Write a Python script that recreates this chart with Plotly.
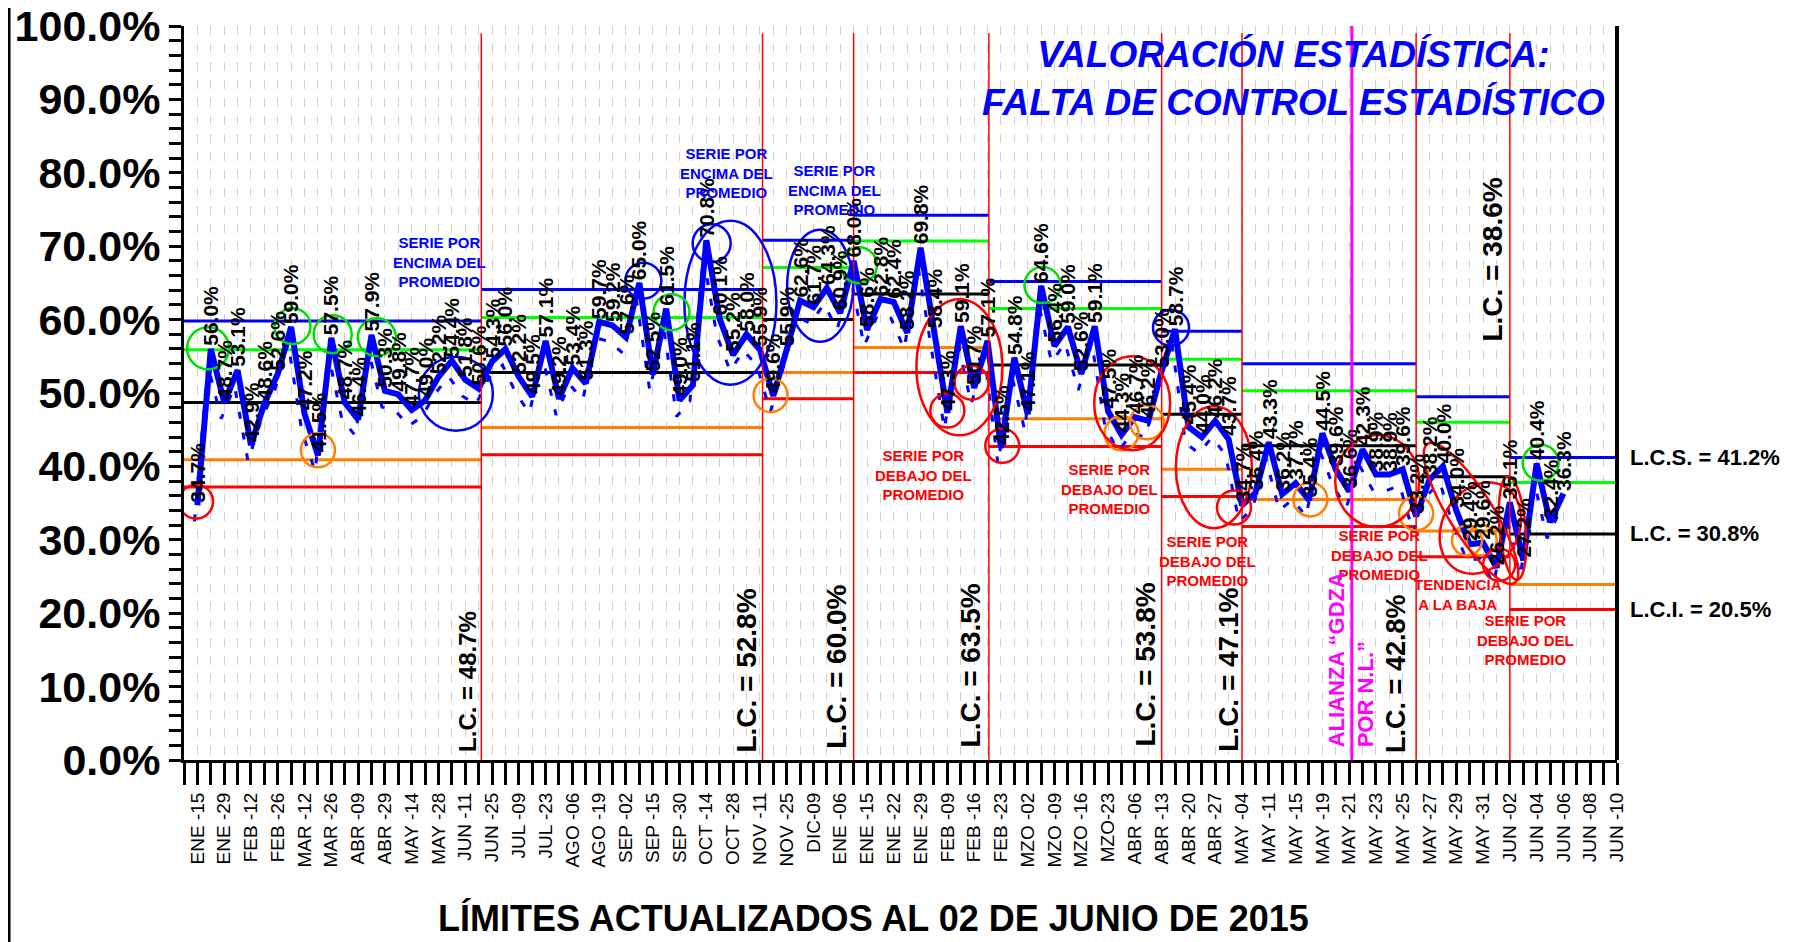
import math
import plotly.graph_objects as go

# etiquetas del eje x (una cada dos puntos)
fechas = [
    "ENE -15", "ENE -29", "FEB -12", "FEB -26", "MAR -12", "MAR -26", "ABR -09", "ABR -29",
    "MAY -14", "MAY -28", "JUN -11", "JUN -25", "JUL -09", "JUL -23", "AGO -06", "AGO -19",
    "SEP -02", "SEP -15", "SEP -30", "OCT -14", "OCT -28", "NOV -11", "NOV -25", "DIC-09",
    "ENE -06", "ENE -15", "ENE -22", "ENE -29", "FEB -09", "FEB -16", "FEB -23", "MZO -02",
    "MZO -09", "MZO -16", "MZO-23", "ABR -06", "ABR -13", "ABR -20", "ABR -27", "MAY -04",
    "MAY -11", "MAY -15", "MAY -19", "MAY -21", "MAY -23", "MAY -25", "MAY -27", "MAY -29",
    "MAY -31", "JUN -02", "JUN -04", "JUN -06", "JUN -08", "JUN -10",
]

valores = [
    34.7, 56.0, 48.7, 53.1, 42.9, 48.6, 52.6, 59.0, 47.2, 41.5, 57.5, 48.7, 46.4, 57.9, 50.3, 49.8,
    47.7, 49.0, 52.2, 54.4, 51.8, 50.6,
    54.3, 56.0, 52.2, 49.5, 57.1, 49.2, 53.4, 51.3, 59.7, 59.2, 57.6, 65.0, 52.5, 61.5, 49.0, 51.1,
    70.8, 60.1, 55.2, 58.0, 55.9,
    49.6, 55.9, 62.6, 61.7, 64.3, 60.9, 68.0,
    58.6, 62.8, 62.4, 58.2, 69.8, 58.4, 47.3, 59.1, 50.7, 57.1,
    42.5, 54.8, 47.1, 64.6, 56.4, 59.0, 52.6, 59.1, 47.5, 44.3, 46.7, 46.2, 53.0,
    58.7, 45.4, 44.0, 46.2, 43.7, 34.7,
    36.4, 43.3, 36.2, 37.7, 35.4, 44.5, 39.6, 36.6, 42.3, 38.9, 38.9, 39.6,
    33.2, 38.2, 40.0, 34.0, 29.4, 29.6, 26.2,
    35.1, 27.2, 40.4, 32.4, 36.3,
]

# limites por etapa
cortes = [-1, 21.2, 42.2, 49.0, 59.1, 72.0, 78.0, 91.0, 98.0, 106]
lcs = [59.8, 64.1, 70.8, 74.2, 65.2, 58.4, 54.0, 49.5, 41.2]
sup2 = [55.9, 60.3, 67.1, 70.7, 61.5, 54.6, 50.3, 46.0, 37.8]
lc = [48.7, 52.8, 60.0, 63.5, 53.8, 47.1, 42.8, 38.6, 30.8]
inf2 = [40.9, 45.3, 52.8, 56.2, 46.5, 39.6, 35.5, 31.2, 23.9]
lci = [37.2, 41.6, 49.2, 52.8, 42.7, 35.9, 31.8, 27.7, 20.5]
alianza = 86.2

PXC = 1433 / 107   # px por punto
PXP = 734 / 100    # px por punto porcentual

x = list(range(len(valores)))

fig = go.Figure()

# sombra punteada
fig.add_trace(go.Scatter(x=x, y=valores, mode="lines", xaxis="x2", yaxis="y2",
                         line=dict(color="#0000ff", width=3, dash="7px,14px"),
                         hoverinfo="skip", showlegend=False))
# lineas de control
colores = [("#0000ff", lcs), ("#00ff00", sup2), ("black", lc), ("#ff8000", inf2), ("#ff0000", lci)]
for i in range(len(lc)):
    for col, serie in colores:
        fig.add_trace(go.Scatter(x=[cortes[i], cortes[i + 1]], y=[serie[i], serie[i]], mode="lines",
                                 line=dict(color=col, width=3), hoverinfo="skip", showlegend=False))
# serie principal
fig.add_trace(go.Scatter(x=x, y=valores, mode="lines", line=dict(color="#0000ff", width=6),
                         showlegend=False))

# etiquetas de datos
for xi, v in zip(x, valores):
    fig.add_annotation(x=xi, y=v, text=f"<b>{v:.1f}%</b>", textangle=-90, showarrow=False,
                       xanchor="center", yanchor="bottom", yshift=1,
                       font=dict(family="Liberation Sans", size=21, color="black"))

shapes = []
# lineas verticales de cambio de etapa
for c in cortes[1:-1]:
    shapes.append(dict(type="line", xref="x", yref="y", x0=c, x1=c, y0=0, y1=99,
                       line=dict(color="#ff0000", width=1.5)))
shapes.append(dict(type="line", xref="x", yref="y", x0=alianza, x1=alianza, y0=0, y1=100,
                   line=dict(color="#ff00ff", width=3)))
# marco derecho y borde izquierdo
shapes.append(dict(type="line", xref="paper", yref="paper", x0=1, x1=1, y0=0, y1=1,
                   line=dict(color="black", width=4)))
shapes.append(dict(type="line", xref="paper", yref="paper", x0=-0.1221, x1=-0.1221, y0=-0.26, y1=1.05,
                   line=dict(color="black", width=3)))

# circulos y elipses de senalamiento: (color, x, y, rx px, ry px, giro)
marcas = [
    ("#0000ff", 19.3, 49.9, 37, 37, 0), ("#0000ff", 33.3, 65.3, 18, 18, 0),
    ("#0000ff", 38.4, 70.4, 19, 19, 0), ("#0000ff", 39.8, 62.3, 46, 82, 0),
    ("#0000ff", 46.5, 64.6, 33, 56, 0), ("#0000ff", 72.7, 58.9, 18, 18, 0),
    ("#00dd00", 0.8, 56.1, 21, 21, 0), ("#00dd00", 7.1, 59.1, 18, 18, 0),
    ("#00dd00", 10.1, 58.0, 19, 19, 0), ("#00dd00", 13.4, 57.6, 19, 19, 0),
    ("#00dd00", 35.4, 61.0, 18, 18, 0), ("#00dd00", 49.4, 67.4, 18, 18, 0),
    ("#00dd00", 63.1, 64.7, 18, 18, 0), ("#00dd00", 100.3, 40.5, 18, 18, 0),
    ("#ff8000", 9.0, 42.2, 17, 17, 0), ("#ff8000", 42.8, 49.7, 17, 17, 0),
    ("#ff8000", 69.0, 44.5, 17, 17, 0), ("#ff8000", 70.9, 46.0, 17, 17, 0),
    ("#ff8000", 83.1, 35.5, 17, 17, 0), ("#ff8000", 91.0, 33.6, 17, 17, 0),
    ("#ff8000", 94.8, 29.9, 15, 15, 0), ("#ff8000", 95.9, 29.9, 15, 15, 0),
    ("#ff0000", -0.1, 35.2, 17, 17, 0), ("#ff0000", 56.9, 53.5, 43, 68, 0),
    ("#ff0000", 56.0, 47.6, 17, 17, 0), ("#ff0000", 57.8, 51.4, 17, 17, 0),
    ("#ff0000", 60.1, 42.8, 17, 17, 0), ("#ff0000", 69.8, 48.6, 38, 47, 0),
    ("#ff0000", 75.9, 39.9, 38, 61, 0), ("#ff0000", 77.4, 34.4, 17, 17, 0),
    ("#ff0000", 88.1, 38.0, 42, 46, 0), ("#ff0000", 97.2, 26.6, 16, 16, 0),
    ("#ff0000", 95.1, 33.6, 82, 22, 58), ("#ff0000", 95.8, 31.6, 38, 48, 30),
    ("#ff0000", 98.2, 31.6, 13, 52, -5),
]
for col, cx, cy, rx, ry, giro in marcas:
    if giro == 0:
        shapes.append(dict(type="circle", xref="x", yref="y", x0=cx - rx / PXC, x1=cx + rx / PXC,
                           y0=cy - ry / PXP, y1=cy + ry / PXP, line=dict(color=col, width=2.5)))
    else:
        th = math.radians(giro)
        pts = []
        for k in range(73):
            t = 2 * math.pi * k / 72
            dx = rx * math.cos(t) * math.cos(th) - ry * math.sin(t) * math.sin(th)
            dy = rx * math.cos(t) * math.sin(th) + ry * math.sin(t) * math.cos(th)
            pts.append(f"{cx + dx / PXC:.3f},{cy - dy / PXP:.3f}")
        shapes.append(dict(type="path", xref="x", yref="y", path="M" + " L".join(pts) + " Z",
                           line=dict(color=col, width=2.5)))

# textos de senalamiento
encima = [(18.1, 67.8), (39.5, 80.0), (47.6, 77.7)]
debajo = [(54.2, 38.8), (68.1, 36.9), (75.4, 27.1), (88.3, 27.9), (99.2, 16.3)]
for px_, py_ in encima:
    fig.add_annotation(x=px_, y=py_, text="<b>SERIE POR<br>ENCIMA DEL<br>PROMEDIO</b>", showarrow=False,
                       xanchor="center", font=dict(family="Liberation Sans", size=15, color="#0000ff"))
for px_, py_ in debajo:
    fig.add_annotation(x=px_, y=py_, text="<b>SERIE POR<br>DEBAJO DEL<br>PROMEDIO</b>", showarrow=False,
                       xanchor="center", font=dict(family="Liberation Sans", size=15, color="#ff0000"))
fig.add_annotation(x=94.1, y=22.6, text="<b>TENDENCIA<br>A LA BAJA</b>", showarrow=False,
                   xanchor="center", font=dict(family="Liberation Sans", size=15, color="#ff0000"))

# L.C. de cada etapa (rotado)
pos_lc = [(20.15, 0.8, 24), (41.0, 0.8, 28), (47.7, 1.3, 28), (57.8, 1.5, 28),
          (70.8, 1.5, 28), (77.0, 0.8, 28), (89.5, 0.7, 27), (96.7, 56.8, 28)]
for (px_, py_, fs), v in zip(pos_lc, lc):
    fig.add_annotation(x=px_, y=py_, text=f"<b>L.C. = {v:.1f}%</b>", textangle=-90, showarrow=False,
                       xanchor="center", yanchor="bottom",
                       font=dict(family="Liberation Sans", size=fs, color="black"))
fig.add_annotation(x=alianza, y=1.5, text="<b>ALIANZA “GDZA<br>POR N.L.”</b>", textangle=-90,
                   showarrow=False, xanchor="center", yanchor="bottom", align="left",
                   font=dict(family="Liberation Sans", size=22, color="#ff00ff"))

# limites vigentes a la derecha
for etiqueta, v in [("L.C.S.", lcs[-1]), ("L.C.", lc[-1]), ("L.C.I.", lci[-1])]:
    fig.add_annotation(xref="paper", x=1.008, y=v, text=f"<b>{etiqueta} = {v:.1f}%</b>", showarrow=False,
                       xanchor="left", yanchor="middle",
                       font=dict(family="Liberation Sans", size=22, color="black"))

fig.add_annotation(xref="paper", yref="paper", x=0.774, y=0.928, xanchor="center", yanchor="middle",
                   text="<b><i>VALORACIÓN ESTADÍSTICA:<br>FALTA DE CONTROL ESTADÍSTICO</i></b>",
                   showarrow=False, font=dict(family="Liberation Sans", size=37, color="#0000ff"))
fig.add_annotation(xref="paper", yref="paper", x=0.481, y=-0.2166, xanchor="center",
                   text="<b>LÍMITES ACTUALIZADOS AL 02 DE JUNIO DE 2015</b>", showarrow=False,
                   yanchor="middle", font=dict(family="Liberation Sans", size=36, color="black"))

tickvals = list(range(-1, 107))
ticktext = [fechas[c // 2] if c >= 0 and c % 2 == 0 and c // 2 < len(fechas) else "" for c in tickvals]

# la pagina deja 8 px de margen al cuerpo: se descuentan aqui
fig.update_layout(
    width=1796, height=934,
    margin=dict(l=176, r=187, t=18, b=182, autoexpand=False),
    paper_bgcolor="white", plot_bgcolor="white",
    shapes=shapes,
    xaxis=dict(range=[-1, 106], tickmode="array", tickvals=tickvals, ticktext=ticktext, automargin=False,
               tickangle=-90, ticks="outside", ticklen=22, tickwidth=3, tickcolor="black",
               showline=True, linecolor="black", linewidth=3, ticklabeloverflow="allow",
               showgrid=True, gridcolor="#d0d0d0", griddash="dash", gridwidth=1, zeroline=False,
               tickfont=dict(family="Liberation Sans", size=19, color="black")),
    yaxis=dict(range=[0, 100], tickmode="array", tickvals=list(range(0, 101, 10)), automargin=False,
               ticktext=[f"{t:.1f}%" for t in range(0, 101, 10)], ticklabeloverflow="allow",
               ticks="outside", ticklen=12, tickwidth=3, tickcolor="black",
               minor=dict(dtick=2, ticks="outside", ticklen=12, tickwidth=3, tickcolor="black", showgrid=False),
               showline=True, linecolor="black", linewidth=3, showgrid=False, zeroline=False,
               tickfont=dict(family="Liberation Sans", size=43, color="black", weight="bold")),
    xaxis2=dict(range=[-1 + 0.22, 106 + 0.22], overlaying="x", visible=False),
    yaxis2=dict(range=[2.2, 102.2], overlaying="y", visible=False),
)

fig.write_html("out.html")
